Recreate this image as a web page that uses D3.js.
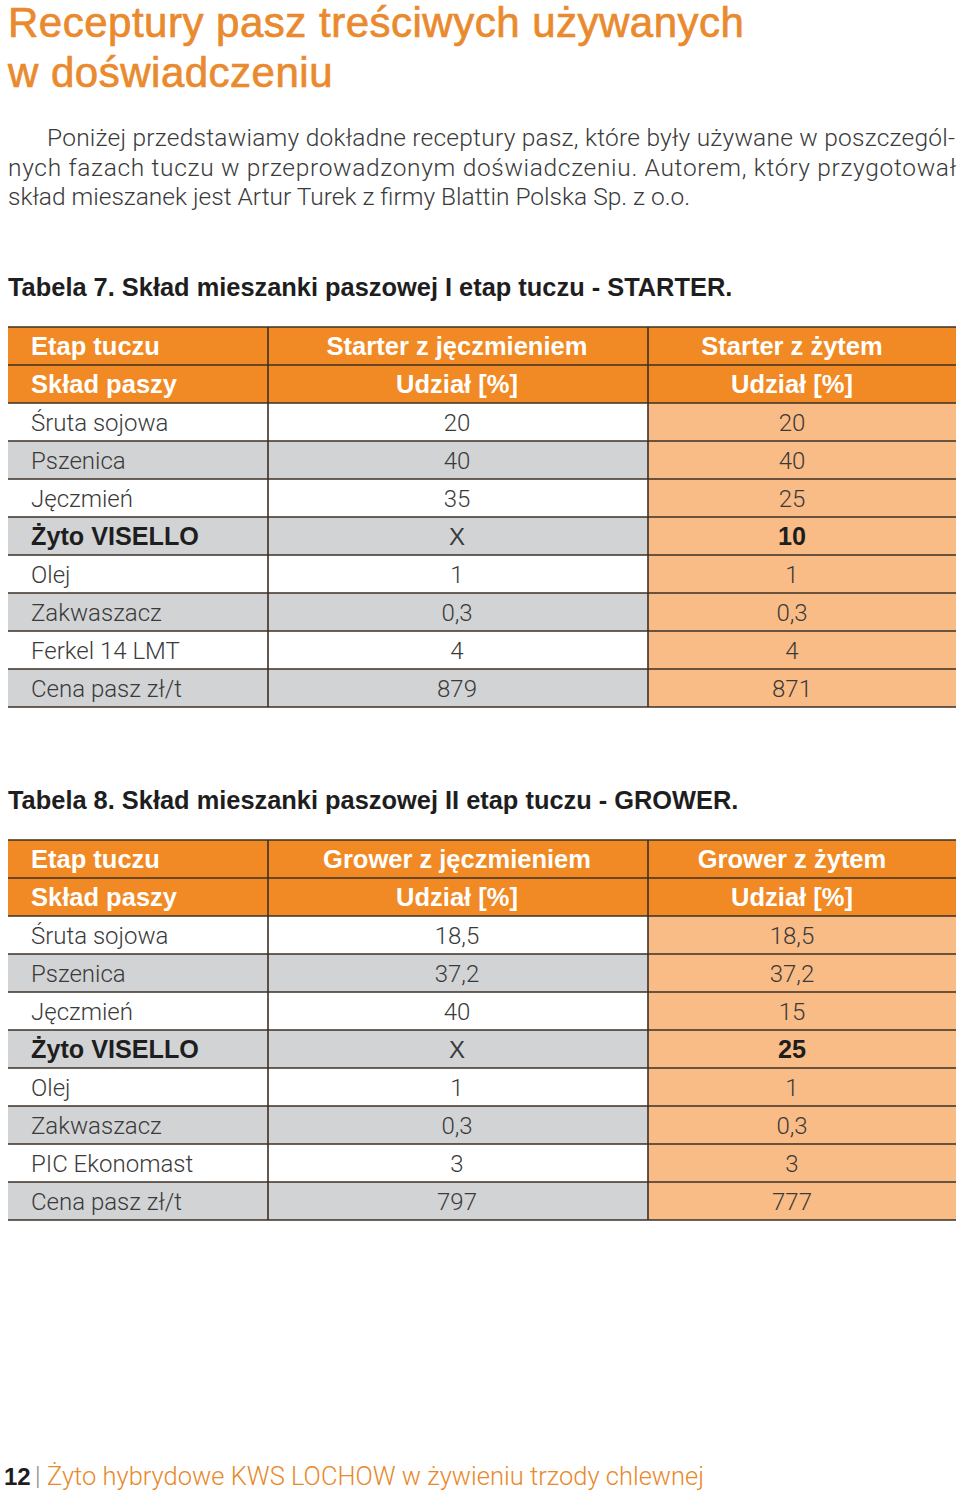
<!DOCTYPE html>
<html>
<head>
<meta charset="utf-8">
<script src="https://cdn.jsdelivr.net/npm/d3@7"></script>
<style>
  html, body { margin: 0; padding: 0; background: #fff; }
  svg { display: block; }
</style>
</head>
<body>
<div id="chart"></div>
<script>
var titleLines = ["Receptury pasz treściwych używanych", "w doświadczeniu"];
var introLines = [
  "Poniżej przedstawiamy dokładne receptury pasz, które były używane w poszczegól-",
  "nych fazach tuczu w przeprowadzonym doświadczeniu. Autorem, który przygotował",
  "skład mieszanek jest Artur Turek z firmy Blattin Polska Sp. z o.o."
];
var footerPage = "12";
var footerText = "Żyto hybrydowe KWS LOCHOW w żywieniu trzody chlewnej";

var headRow1Label = "Etap tuczu";
var headRow2Label = "Skład paszy";
var shareLabel = "Udział [%]";

var starterCaption = "Tabela 7. Skład mieszanki paszowej I etap tuczu - STARTER.";
var starterColumns = ["Starter z jęczmieniem", "Starter z żytem"];
var starterItems = ["Śruta sojowa", "Pszenica", "Jęczmień", "Żyto VISELLO", "Olej", "Zakwaszacz", "Ferkel 14 LMT", "Cena pasz zł/t"];
var starterBarley = ["20", "40", "35", "X", "1", "0,3", "4", "879"];
var starterRye = ["20", "40", "25", "10", "1", "0,3", "4", "871"];

var growerCaption = "Tabela 8. Skład mieszanki paszowej II etap tuczu - GROWER.";
var growerColumns = ["Grower z jęczmieniem", "Grower z żytem"];
var growerItems = ["Śruta sojowa", "Pszenica", "Jęczmień", "Żyto VISELLO", "Olej", "Zakwaszacz", "PIC Ekonomast", "Cena pasz zł/t"];
var growerBarley = ["18,5", "37,2", "40", "X", "1", "0,3", "3", "797"];
var growerRye = ["18,5", "37,2", "15", "25", "1", "0,3", "3", "777"];

var boldItem = "Żyto VISELLO";

var width = 960, height = 1497;
var orange = "#f18a24", peach = "#f9bc86", grey = "#d2d3d5", lineColor = "#3b2f25";
var textColor = "#3a3a3a";
var bodyFont = "Roboto, 'Liberation Sans', sans-serif";
var headFont = "'Liberation Sans', Arial, sans-serif";

var svg = d3.select("#chart").append("svg")
  .attr("width", width)
  .attr("height", height);

// title
svg.selectAll("text.title")
  .data(titleLines)
  .enter().append("text")
    .attr("class", "title")
    .attr("x", 8)
    .attr("y", function(d, i) { return 37 + i * 50; })
    .attr("font-family", headFont)
    .attr("font-size", 42)
    .attr("letter-spacing", 0.5)
    .attr("fill", "#ea8a2e")
    .attr("stroke", "#ea8a2e")
    .attr("stroke-width", 0.7)
    .text(function(d) { return d; });

// intro paragraph, first two lines justified
svg.selectAll("text.intro")
  .data(introLines)
  .enter().append("text")
    .attr("class", "intro")
    .attr("x", function(d, i) { return i == 0 ? 47 : 8; })
    .attr("y", function(d, i) { return 146 + i * 29.5; })
    .attr("font-family", bodyFont)
    .attr("font-weight", 300)
    .attr("font-size", 24.5)
    .attr("fill", textColor)
    .each(function(d, i) {
      if (i < 2) {
        d3.select(this)
          .attr("textLength", i == 0 ? 908 : 948)
          .attr("lengthAdjust", "spacing");
      }
    })
    .text(function(d) { return d; });

function drawTable(top, caption, columns, items, barley, rye) {
  var rows = [
    { label: headRow1Label, a: columns[0], b: columns[1], head: true },
    { label: headRow2Label, a: shareLabel, b: shareLabel, head: true }
  ];
  items.forEach(function(item, i) {
    rows.push({ label: item, a: barley[i], b: rye[i], head: false, index: i });
  });

  var y = d3.scaleBand()
    .domain(d3.range(rows.length))
    .range([top, top + rows.length * 38]);
  var x = d3.scaleOrdinal()
    .domain(["label", "a", "b"])
    .range([8, 268, 648]);
  var colWidth = { label: 260, a: 380, b: 308 };
  var textX = { label: 31, a: 457, b: 792 };

  svg.append("text")
    .attr("x", 8)
    .attr("y", top - 31)
    .attr("font-family", headFont)
    .attr("font-weight", "bold")
    .attr("font-size", 25.4)
    .attr("fill", "#1e1e1e")
    .text(caption);

  var g = svg.append("g");
  var row = g.selectAll("g.row")
    .data(rows)
    .enter().append("g")
      .attr("class", "row")
      .attr("transform", function(d, i) { return "translate(0," + y(i) + ")"; });

  ["label", "a", "b"].forEach(function(key) {
    row.append("rect")
      .attr("x", x(key))
      .attr("width", colWidth[key])
      .attr("height", y.bandwidth())
      .attr("fill", function(d) {
        if (d.head) return orange;
        if (key == "b") return peach;
        return d.index % 2 == 1 ? grey : "#ffffff";
      });

    row.append("text")
      .attr("x", textX[key])
      .attr("y", y.bandwidth() / 2 + 9)
      .attr("text-anchor", key == "label" ? "start" : "middle")
      .attr("font-family", function(d) { return d.head || d.label == boldItem ? headFont : bodyFont; })
      .attr("font-weight", function(d) {
        if (d.head) return "bold";
        if (d.label == boldItem && (key == "label" || key == "b")) return "bold";
        return 300;
      })
      .attr("font-size", function(d) { return d.head ? 25.5 : (d.label == boldItem && key != "a" ? 25.2 : 24); })
      .attr("fill", function(d) { return d.head ? "#ffffff" : (d.label == boldItem && key != "a" ? "#1e1e1e" : textColor); })
      .text(function(d) { return d[key]; });
  });

  // horizontal rules
  g.selectAll("line.h")
    .data(d3.range(rows.length + 1))
    .enter().append("line")
      .attr("x1", 8)
      .attr("x2", 956)
      .attr("y1", function(i) { return top + i * y.step(); })
      .attr("y2", function(i) { return top + i * y.step(); })
      .attr("stroke", lineColor)
      .attr("stroke-width", 1.6);

  // vertical rules
  g.selectAll("line.v")
    .data(["a", "b"])
    .enter().append("line")
      .attr("x1", function(k) { return x(k); })
      .attr("x2", function(k) { return x(k); })
      .attr("y1", top)
      .attr("y2", top + rows.length * y.step())
      .attr("stroke", lineColor)
      .attr("stroke-width", 1.6);
}

drawTable(327, starterCaption, starterColumns, starterItems, starterBarley, starterRye);
drawTable(840, growerCaption, growerColumns, growerItems, growerBarley, growerRye);

// footer
svg.append("text")
  .attr("x", 4)
  .attr("y", 1485)
  .attr("font-family", headFont)
  .attr("font-weight", "bold")
  .attr("font-size", 24)
  .attr("fill", "#1e1e1e")
  .text(footerPage);
svg.append("text")
  .attr("x", 35)
  .attr("y", 1485)
  .attr("font-family", bodyFont)
  .attr("font-weight", 300)
  .attr("font-size", 25)
  .attr("fill", "#8a8a8a")
  .text("|");
svg.append("text")
  .attr("x", 47)
  .attr("y", 1485)
  .attr("font-family", bodyFont)
  .attr("font-weight", 300)
  .attr("font-size", 25.5)
  .attr("fill", "#e8892b")
  .text(footerText);
</script>
</body>
</html>
